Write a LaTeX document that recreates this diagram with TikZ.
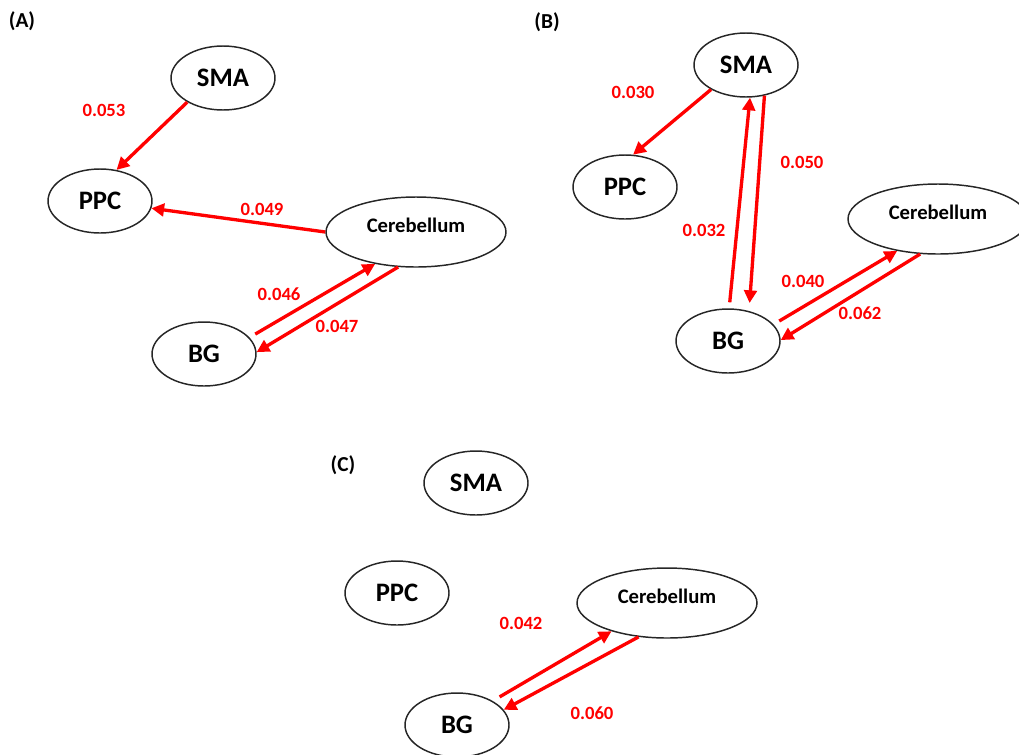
\documentclass[tikz,border=0pt]{standalone}
\usepackage{fontspec}
\setmainfont{Carlito}
\usetikzlibrary{shapes.geometric, arrows.meta}

\begin{document}
\begin{tikzpicture}[x=0.75pt, y=-0.75pt,
	region/.style={draw=black!85, line width=1.1pt, ellipse, inner sep=0pt, minimum width=78pt, minimum height=48pt, font=\fontsize{20}{24}\selectfont\bfseries},
	cereb/.style={region, minimum width=135pt, minimum height=52.5pt, text depth=10pt, font=\fontsize{15.5}{18}\selectfont\bfseries},
	link/.style={red, line width=2.5pt, -{Triangle[length=9.5pt, width=9.5pt]}},
	weight/.style={red, inner sep=0pt, font=\fontsize{14}{16}\selectfont\bfseries},
	panel/.style={inner sep=0pt, font=\fontsize{16}{19}\selectfont\bfseries}]
	\useasboundingbox	(0,0) rectangle (1019,754);
	\clip				(0,0) rectangle (1019,754);

	% (A)
	\node[panel]	(labA)	at (22,21)		{(A)};
	\node[region]	(smaA)	at (223,78)		{SMA};
	\node[region]	(ppcA)	at (100,201)	{PPC};
	\node[cereb]	(cerA)	at (416,232)	{Cerebellum};
	\node[region]	(bgA)	at (204,354)	{BG};

	\draw[link]					(smaA.214) -- (ppcA.62);
	\draw[link]					(cerA.180) -- (ppcA.352);
	\draw[link, shorten <=5pt]	(bgA.20) -- (cerA.218);
	\draw[link]					(cerA.243) -- (bgA.2);

	\node[weight]	(wA1)	at (104,110)	{0.053};
	\node[weight]	(wA2)	at (262,209)	{0.049};
	\node[weight]	(wA3)	at (279,294)	{0.046};
	\node[weight]	(wA4)	at (337,326)	{0.047};

	% (B)
	\node[panel]	(labB)	at (547,22)		{(B)};
	\node[region]	(smaB)	at (746,65)		{SMA};
	\node[region]	(ppcB)	at (625,187)	{PPC};
	\node[cereb]	(cerB)	at (938,219)	{Cerebellum};
	\node[region]	(bgB)	at (728,341)	{BG};

	\draw[link]					(smaB.215) -- (ppcB.76);
	\draw[link, shorten <=4.5pt]	(bgB.88) -- (smaB.277);
	\draw[link, shorten >=6pt]	(smaB.301) -- (bgB.55);
	\draw[link, shorten <=5pt]	(bgB.20) -- (cerB.218);
	\draw[link]					(cerB.243) -- (bgB.1);

	\node[weight]	(wB1)	at (633,92)		{0.030};
	\node[weight]	(wB2)	at (704,230)	{0.032};
	\node[weight]	(wB3)	at (802,162)	{0.050};
	\node[weight]	(wB4)	at (803,281)	{0.040};
	\node[weight]	(wB5)	at (860,313)	{0.062};

	% (C)
	\node[panel]	(labC)	at (343,465)	{(C)};
	\node[region]	(smaC)	at (476,483)	{SMA};
	\node[region]	(ppcC)	at (397,593)	{PPC};
	\node[cereb]	(cerC)	at (667,603)	{Cerebellum};
	\node[region]	(bgC)	at (457,725)	{BG};

	\draw[link, shorten <=6pt]	(bgC.34) -- (cerC.207);
	\draw[link]					(cerC.230) -- (bgC.18);

	\node[weight]	(wC1)	at (521,623)	{0.042};
	\node[weight]	(wC2)	at (592,713)	{0.060};
\end{tikzpicture}
\end{document}
